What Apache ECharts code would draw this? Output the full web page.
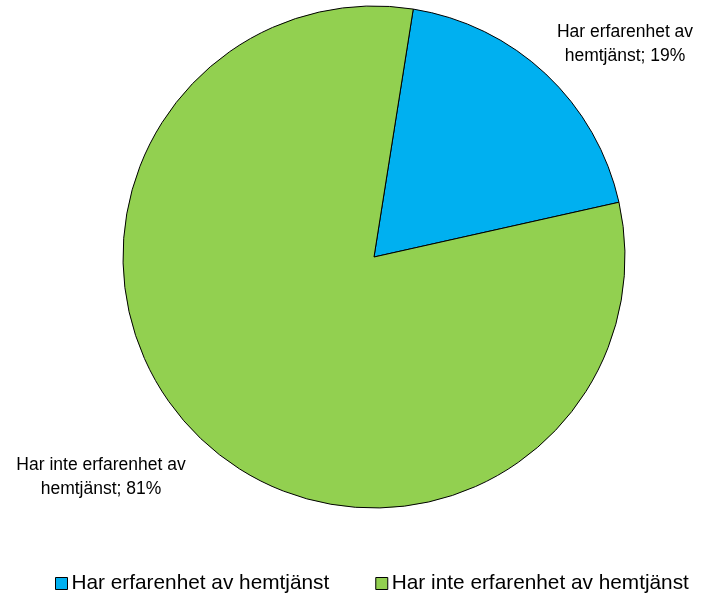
<!DOCTYPE html>
<html><head><meta charset="utf-8">
<script src="https://cdn.jsdelivr.net/npm/echarts@6/dist/echarts.min.js"></script>
<style>html,body{margin:0;padding:0;background:#fff}#c{width:704px;height:593px}</style>
</head><body><div id="c"></div>
<script>
const categories = ['Har erfarenhet av hemtjänst', 'Har inte erfarenhet av hemtjänst'];
const labelNames = ['Har erfarenhet av\nhemtjänst', 'Har inte erfarenhet av\nhemtjänst'];
const values = [19, 81];
const colors = ['#00B0F0', '#92D050'];

const chart = echarts.init(document.getElementById('c'));
const labelPos = [[625, 44], [101, 477]];
chart.setOption({
  animation: false,
  legend: {
    top: 568, left: 50, width: 654,
    itemWidth: 12, itemHeight: 12, itemGap: 46,
    icon: 'rect',
    textStyle: { fontFamily: 'Liberation Sans', fontSize: 20.8, color: '#000', padding: [0, 0, 0, -1] },
    itemStyle: { borderColor: '#000', borderWidth: 1 },
    data: categories
  },
  series: [{
    type: 'pie',
    center: [374, 257],
    radius: [0, 251],
    startAngle: 81,
    clockwise: true,
    data: categories.map((c, i) => ({ name: c, value: values[i], itemStyle: { color: colors[i] } })),
    itemStyle: { borderColor: '#000', borderWidth: 1 },
    label: {
      show: true, position: 'outside', overflow: 'none', width: 300,
      formatter: p => labelNames[p.dataIndex] + '; ' + p.value + '%',
      fontFamily: 'Liberation Sans', fontSize: 17.5, color: '#000', lineHeight: 24, align: 'center'
    },
    labelLine: { show: false },
    labelLayout: p => ({ x: labelPos[p.dataIndex][0], y: labelPos[p.dataIndex][1], align: 'center', verticalAlign: 'middle' })
  }]
});
</script></body></html>
